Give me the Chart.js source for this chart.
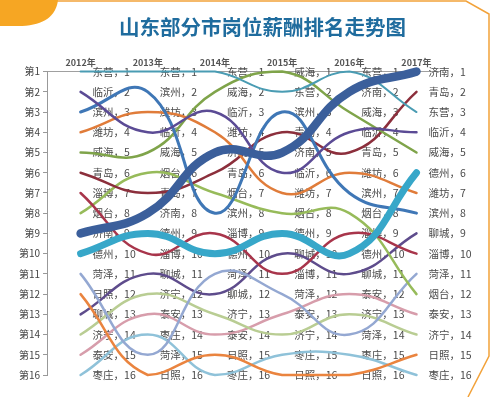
<!DOCTYPE html>
<html>
<head>
<meta charset="utf-8">
<script src="https://cdn.jsdelivr.net/npm/chart.js@4"></script>
<style>
  body { margin: 0; background: #fff; }
  #wrap { width: 493px; height: 397px; }
</style>
</head>
<body>
<div id="wrap"><canvas id="rankChart"></canvas></div>
<script>
// data
const years = [2012, 2013, 2014, 2015, 2016, 2017]
const order2012 = ['东营','临沂','滨州','潍坊','威海','青岛','淄博','烟台','济南','德州','菏泽','日照','聊城','济宁','泰安','枣庄']
const order2013 = ['东营','滨州','潍坊','临沂','威海','烟台','青岛','济南','德州','淄博','聊城','济宁','泰安','枣庄','菏泽','日照']
const order2014 = ['东营','威海','临沂','潍坊','济南','青岛','烟台','滨州','淄博','德州','菏泽','聊城','济宁','泰安','日照','枣庄']
const order2015 = ['威海','东营','滨州','青岛','济南','临沂','潍坊','烟台','德州','聊城','淄博','菏泽','泰安','济宁','枣庄','日照']
const order2016 = ['东营','济南','威海','临沂','青岛','潍坊','滨州','烟台','淄博','德州','聊城','泰安','济宁','菏泽','枣庄','日照']
const order2017 = ['济南','青岛','东营','临沂','威海','德州','潍坊','滨州','聊城','淄博','菏泽','烟台','泰安','济宁','日照','枣庄']
const rankTicks = [1,2,3,4,5,6,7,8,9,10,11,12,13,14,15,16]

const orders = [order2012, order2013, order2014, order2015, order2016, order2017]

// line look per city
const cityColors = {
  '东营': '#4a9cb3', '临沂': '#5b4b95', '滨州': '#3f77b6', '潍坊': '#e07c3a',
  '威海': '#7fa44a', '青岛': '#8c2f3c', '淄博': '#a8354b', '烟台': '#97bb5a',
  '济南': '#3b5f9b', '德州': '#37a7c9', '菏泽': '#94a8d2', '日照': '#ea843f',
  '聊城': '#5e4c8c', '济宁': '#b9cd93', '泰安': '#d79dab', '枣庄': '#8fc2d9'
}
const cityWidths = { '济南': 8.5, '德州': 7, '滨州': 3, '东营': 2 }

const datasets = order2012.map(function (city) {
  return {
    label: city,
    data: years.map((y, i) => ({ x: y, y: orders[i].indexOf(city) + 1 })),
    borderColor: cityColors[city],
    borderWidth: cityWidths[city] || 2.5,
    borderCapStyle: 'round',
    pointRadius: 0,
    tension: 0.45,
    clip: false,
    order: (city === '济南' || city === '德州') ? 0 : 1
  }
})

const FONT = "'Noto Sans CJK SC', 'Noto Sans', sans-serif"

// frame + background
const framePlugin = {
  id: 'frame',
  beforeDraw(chart) {
    const ctx = chart.ctx
    ctx.save()
    ctx.fillStyle = '#fff'
    ctx.fillRect(0, 0, chart.width, chart.height)
    ctx.strokeStyle = '#f2a23a'
    ctx.lineWidth = 1.5
    ctx.beginPath()
    ctx.moveTo(55, 1)
    ctx.lineTo(466, 1)
    ctx.lineTo(489, 14)
    ctx.lineTo(489, 356)
    ctx.lineTo(468, 397)
    ctx.stroke()
    ctx.fillStyle = '#f6a623'
    ctx.beginPath()
    ctx.moveTo(0, 0)
    ctx.lineTo(58, 0)
    ctx.bezierCurveTo(56, 16, 44, 25, 22, 26)
    ctx.lineTo(0, 26)
    ctx.closePath()
    ctx.fill()
    ctx.restore()
  }
}

// "城市，名次" labels next to every point
const labelPlugin = {
  id: 'pointLabels',
  beforeDatasetsDraw(chart) {
    const ctx = chart.ctx
    ctx.save()
    ctx.font = '10.5px ' + FONT
    ctx.fillStyle = '#4a4a4a'
    ctx.textBaseline = 'middle'
    ctx.textAlign = 'left'
    chart.data.datasets.forEach(function (ds, di) {
      const meta = chart.getDatasetMeta(di)
      meta.data.forEach(function (pt, i) {
        ctx.fillText(ds.label + '，' + ds.data[i].y, pt.x + 12, pt.y)
      })
    })
    ctx.restore()
  }
}

const config = {
  type: 'line',
  data: { datasets: datasets },
  options: {
    responsive: true,
    maintainAspectRatio: false,
    animation: false,
    // negative right padding moves the centred title right, like the original
    layout: { padding: { left: 0, right: -32, bottom: 22, top: 0 } },
    plugins: {
      legend: { display: false },
      tooltip: { enabled: false },
      title: {
        display: true,
        text: '山东部分市岗位薪酬排名走势图',
        color: '#1f6c9e',
        font: { size: 20.5, weight: 'bold', family: FONT },
        padding: { top: 15, bottom: 7 }
      }
    },
    scales: {
      x: {
        type: 'linear',
        position: 'top',
        min: 2011.5,
        max: 2017.35,
        afterBuildTicks: function (scale) {
          scale.ticks = years.map(v => ({ value: v }))
        },
        afterFit: function (scale) { scale.height = 25 },
        grid: { display: false, drawTicks: false },
        border: { display: true, color: '#a0a0a0', width: 1 },
        ticks: {
          padding: 4,
          maxRotation: 0,
          color: '#555',
          font: { size: 9, weight: 'bold', family: FONT },
          callback: v => v + '年'
        }
      },
      y: {
        type: 'linear',
        reverse: true,
        min: 1,
        max: 16,
        afterBuildTicks: function (scale) {
          scale.ticks = rankTicks.map(v => ({ value: v }))
        },
        afterFit: function (scale) { scale.width = 47 },
        grid: { drawOnChartArea: false, drawTicks: true, tickLength: 4, color: '#999' },
        border: { display: true, color: '#999', width: 1 },
        ticks: {
          padding: 3,
          color: '#444',
          font: { size: 10, family: FONT },
          callback: v => '第' + v
        }
      },
      // empty room on the right for the 2017 labels
      yRight: {
        position: 'right',
        display: true,
        afterFit: function (scale) { scale.width = 85 },
        grid: { display: false, drawTicks: false },
        border: { display: false },
        ticks: { display: false }
      }
    }
  },
  plugins: [framePlugin, labelPlugin]
}

const rankChart = new Chart(document.querySelector('#rankChart'), config)
</script>
</body>
</html>
